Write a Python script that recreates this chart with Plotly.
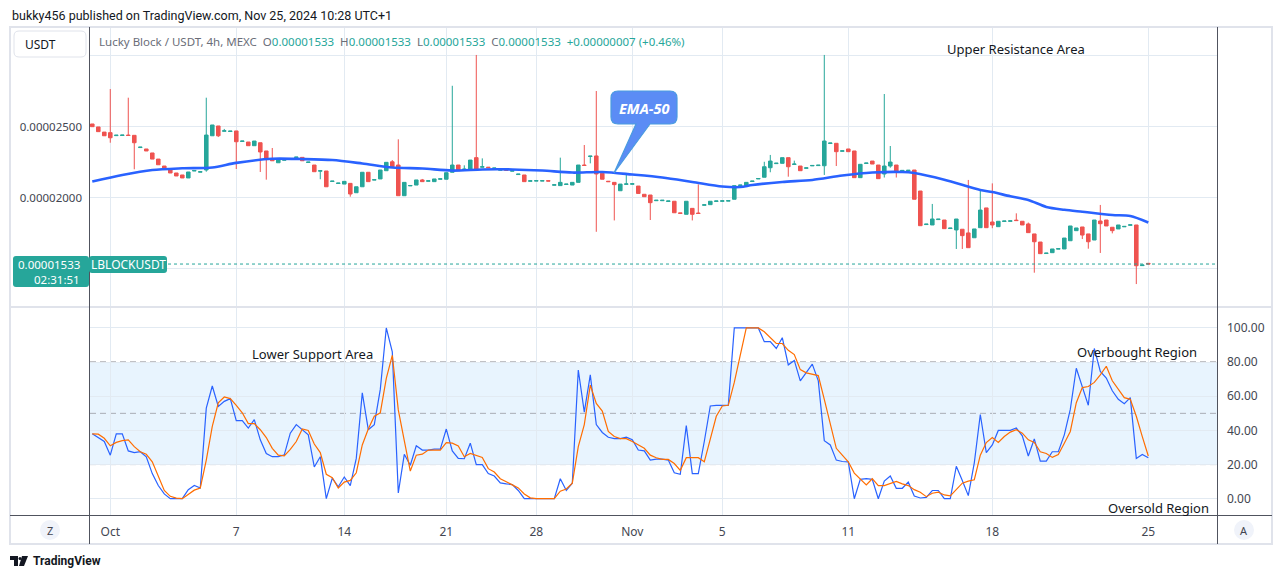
import plotly.graph_objects as go

# ---------------- data (prices in units of 1e-8 USDT) ----------------
UNIT = 1e-8

opens = [
    2519, 2498, 2462, 2458, 2437, 2438, 2441, 2439, 2353, 2343,
    2315, 2272, 2223, 2204, 2174, 2160, 2139, 2188, 2180, 2195,
    2436, 2505, 2468, 2466, 2470, 2396, 2392, 2366, 2387, 2329,
    2274, 2246, 2264, 2271, 2283, 2284, 2248, 2230, 2187, 2188,
    2114, 2100, 2096, 2101, 2035, 2077, 2179, 2124, 2132, 2190,
    2253, 2230, 2014, 2083, 2089, 2125, 2116, 2113, 2130, 2130,
    2179, 2230, 2198, 2195, 2282, 2215, 2215, 2206, 2194, 2196,
    2187, 2163, 2160, 2116, 2117, 2117, 2120, 2088, 2085, 2093,
    2089, 2108, 2230, 2290, 2294, 2172, 2116, 2108, 2049, 2094,
    2095, 2082, 2024, 2019, 1979, 1979, 1974, 1975, 1893, 1883,
    1925, 1892, 1947, 1951, 1974, 1975, 1976, 1989, 2086, 2085,
    2114, 2132, 2144, 2211, 2240, 2242, 2282, 2234, 2223, 2207,
    2224, 2226, 2225, 2382, 2383, 2327, 2343, 2329, 2141, 2241,
    2258, 2230, 2167, 2223, 2230, 2189, 2190, 2195, 2047, 1811,
    1808, 1846, 1843, 1783, 1773, 1778, 1752, 1718, 1789, 1928,
    1829, 1796, 1833, 1834, 1842, 1834, 1815, 1745, 1688, 1607,
    1613, 1638, 1639, 1697, 1768, 1794, 1745, 1702, 1836, 1843,
    1792, 1780, 1795, 1806, 1808, 1522, 1538,
]
highs = [
    2519, 2498, 2462, 2765, 2440, 2441, 2704, 2439, 2356, 2343,
    2315, 2272, 2223, 2204, 2174, 2160, 2181, 2191, 2183, 2704,
    2512, 2505, 2484, 2469, 2470, 2399, 2392, 2399, 2387, 2329,
    2350, 2270, 2267, 2274, 2286, 2284, 2251, 2230, 2190, 2188,
    2117, 2103, 2115, 2101, 2077, 2179, 2179, 2127, 2195, 2249,
    2265, 2411, 2108, 2086, 2125, 2132, 2119, 2132, 2133, 2176,
    2788, 2230, 2228, 2265, 3005, 2277, 2215, 2209, 2197, 2196,
    2190, 2166, 2160, 2119, 2120, 2120, 2120, 2091, 2282, 2096,
    2108, 2230, 2371, 2293, 2751, 2172, 2116, 2108, 2096, 2165,
    2098, 2082, 2024, 2019, 1982, 1982, 1977, 1975, 1893, 1975,
    1925, 2094, 1950, 1975, 1977, 1978, 1979, 2085, 2089, 2108,
    2117, 2135, 2253, 2301, 2243, 2282, 2282, 2261, 2223, 2210,
    2227, 2229, 3005, 2385, 2383, 2330, 2343, 2329, 2235, 2244,
    2258, 2230, 2730, 2364, 2230, 2192, 2193, 2195, 2047, 1814,
    1956, 1849, 1843, 1786, 1850, 1778, 2125, 1780, 2047, 1928,
    2101, 1834, 1836, 1837, 1890, 1834, 1825, 1745, 1688, 1610,
    1639, 1641, 1716, 1801, 1787, 1794, 1745, 1843, 1949, 1843,
    1792, 1808, 1798, 1809, 1808, 1526, 1538,
]
lows = [
    2500, 2465, 2436, 2387, 2437, 2438, 2438, 2200, 2353, 2329,
    2272, 2232, 2209, 2174, 2153, 2139, 2139, 2188, 2180, 2183,
    2436, 2427, 2468, 2466, 2202, 2396, 2366, 2366, 2181, 2127,
    2260, 2246, 2264, 2271, 2283, 2260, 2248, 2183, 2130, 2077,
    2114, 2100, 2096, 2007, 2035, 2077, 2113, 2124, 2132, 2190,
    2218, 2014, 2014, 2083, 2089, 2113, 2116, 2113, 2130, 2130,
    2179, 2190, 2198, 2195, 2195, 2215, 2212, 2206, 2194, 2193,
    2187, 2163, 2113, 2116, 2117, 2117, 2117, 2088, 2085, 2093,
    2089, 2108, 2227, 2242, 1760, 2130, 2113, 1840, 2049, 2094,
    2095, 2030, 2007, 1843, 1979, 1979, 1974, 1894, 1890, 1883,
    1840, 1889, 1947, 1951, 1974, 1975, 1976, 1989, 2086, 2085,
    2114, 2132, 2144, 2179, 2240, 2242, 2148, 2234, 2190, 2207,
    2224, 2226, 2160, 2382, 2223, 2327, 2324, 2141, 2141, 2241,
    2237, 2134, 2142, 2211, 2142, 2189, 2190, 1989, 1803, 1811,
    1808, 1846, 1782, 1783, 1639, 1639, 1648, 1718, 1789, 1789,
    1785, 1796, 1833, 1834, 1839, 1808, 1754, 1472, 1606, 1607,
    1613, 1638, 1639, 1697, 1768, 1709, 1641, 1702, 1611, 1801,
    1749, 1780, 1795, 1806, 1392, 1522, 1533,
]
closes = [
    2500, 2465, 2436, 2422, 2440, 2441, 2438, 2387, 2356, 2329,
    2272, 2232, 2209, 2174, 2153, 2139, 2181, 2191, 2183, 2441,
    2512, 2436, 2471, 2469, 2394, 2399, 2366, 2399, 2322, 2270,
    2260, 2270, 2267, 2274, 2286, 2260, 2251, 2183, 2190, 2077,
    2117, 2103, 2115, 2026, 2077, 2179, 2113, 2127, 2195, 2249,
    2218, 2014, 2108, 2086, 2125, 2113, 2119, 2132, 2133, 2176,
    2230, 2190, 2201, 2265, 2195, 2218, 2212, 2209, 2197, 2193,
    2190, 2166, 2113, 2119, 2120, 2120, 2117, 2091, 2108, 2096,
    2108, 2230, 2227, 2293, 2167, 2130, 2113, 2092, 2096, 2097,
    2098, 2030, 2007, 1965, 1982, 1982, 1977, 1894, 1890, 1975,
    1883, 1889, 1950, 1975, 1977, 1978, 1979, 2085, 2089, 2108,
    2117, 2135, 2218, 2258, 2243, 2282, 2218, 2237, 2190, 2210,
    2227, 2229, 2399, 2385, 2324, 2330, 2324, 2141, 2235, 2244,
    2237, 2134, 2223, 2251, 2183, 2192, 2193, 1989, 1803, 1814,
    1850, 1849, 1782, 1786, 1850, 1733, 1648, 1780, 1913, 1789,
    1808, 1834, 1836, 1837, 1839, 1808, 1754, 1690, 1606, 1610,
    1639, 1641, 1716, 1801, 1787, 1737, 1690, 1843, 1817, 1801,
    1768, 1808, 1798, 1809, 1521, 1526, 1533,
]

# EMA-50 read at selected candles
ema_idx = [0, 5, 10, 15, 20, 24, 30, 35, 40, 45, 50, 55, 60, 65, 70, 75, 80, 85,
           90, 95, 100, 105, 108, 110, 115, 120, 125, 130, 135, 137, 142, 148,
           150, 153, 156, 159, 162, 165, 170, 173, 176]
ema_val = [2114, 2160, 2195, 2207, 2213, 2245, 2274, 2272, 2265, 2241, 2213, 2206,
           2191, 2199, 2199, 2191, 2177, 2181, 2163, 2142, 2111, 2079, 2075, 2089,
           2111, 2125, 2156, 2177, 2181, 2174, 2127, 2054, 2040, 2010, 1984, 1935,
           1915, 1901, 1878, 1871, 1825]

# Stochastic %K (blue) and %D (orange), one value per candle
stoch_k = [
    38, 36, 33.5, 25.5, 38, 38, 28, 27, 27.5, 24.5,
    14.7, 7.7, 2.8, 0, 0, 0, 5.3, 7.7, 6.3, 53,
    66, 54, 57, 58.6, 45.7, 45.7, 41.4, 46.3, 34.5, 26.5,
    24.6, 24.6, 25.7, 38.4, 43.4, 40.4, 37.4, 18.6, 24.6, 0,
    12, 7, 12.7, 7.7, 23.6, 62, 40.4, 43.4, 64, 100,
    86, 3.4, 26, 19.6, 31, 28.5, 28.5, 29, 29, 40.8,
    28, 23.6, 23.4, 32.5, 20, 20, 14.7, 13.3, 9.3, 8.7,
    8.3, 4.8, 0, 0, 0, 0, 0, 0, 11.7, 4.8,
    9.1, 75.4, 50.7, 72.5, 43.4, 38.8, 36, 35.2, 35.2, 36,
    34.5, 28.5, 28, 22.6, 23.2, 23.2, 22.6, 15.2, 14.3, 42.8,
    14.7, 14.7, 33.5, 54.3, 54.7, 54.7, 54.7, 100, 100, 100,
    100, 100, 92, 92, 88, 94.3, 78.4, 81, 69, 73.7,
    78.8, 69, 34, 31.5, 22.6, 21.8, 21.6, 0, 11.3, 11.7,
    11.3, 0, 10.3, 13.3, 6.1, 6.1, 9.7, 1.6, 0.4, 0.8,
    4.8, 4.8, 0, 0, 19, 10.7, 1.8, 21, 49.3, 27,
    31.5, 40, 40, 40, 41.4, 36.8, 25, 35, 22, 22,
    27.5, 27.5, 37.4, 52.3, 76.4, 65.7, 54.7, 88, 74.5, 70.7,
    63.2, 58.2, 55.6, 59.2, 23.6, 25.9, 24,
]
stoch_d = [
    38, 37.8, 35.4, 31, 33, 34, 34.5, 30.5, 27.5, 26,
    21.6, 12.7, 4.8, 1.4, 0.3, 0, 2.4, 5, 6.3, 22.6,
    42.4, 56.2, 59.6, 58.6, 54.7, 50.3, 44, 44, 40.4, 35.8,
    29.5, 25.5, 25.1, 28.9, 33.5, 40.8, 40, 32, 27, 14.3,
    12.3, 6.3, 9.7, 10.7, 15.2, 31.5, 40.8, 48.3, 50.3, 70.5,
    84, 52, 34, 16.2, 25.5, 26.1, 28.5, 28.5, 28.5, 32.9,
    32.5, 30.9, 24.6, 26.5, 25.5, 24.2, 17.6, 15.6, 11.7, 9.7,
    8.1, 6.3, 2.8, 0.5, 0, 0, 0, 0, 4.4, 5.7,
    9.1, 30.5, 43.4, 66.5, 55.8, 51.3, 39.4, 36.4, 35.2, 35.2,
    33.5, 31.5, 29.5, 25.5, 24, 23, 23, 20.6, 16.6, 24,
    24, 24, 21.6, 34.5, 48.3, 54.3, 54.7, 68.1, 84, 100,
    100, 100, 97.8, 94.3, 90.9, 90.9, 86.9, 84.4, 75.6, 73.7,
    73.1, 72.1, 58.2, 44.4, 29.5, 25.5, 21.6, 15, 11.7, 8.1,
    11.7, 7.7, 7.7, 8.7, 10.1, 8.7, 7.7, 5.3, 3.8, 1.2,
    3.2, 3.8, 2.2, 1.6, 5.3, 9.1, 10.3, 11.1, 25.5, 32.9,
    35.8, 32.9, 36.4, 39, 40.4, 38.4, 34.5, 32.9, 27.5, 26.5,
    24.2, 25.9, 32.5, 39.4, 56.2, 65.1, 65.7, 68.1, 72.5, 77.6,
    69.1, 64.2, 59.2, 58.2, 48.3, 36.4, 25,
]

tick_idx = [3, 24, 42, 59, 74, 90, 105, 126, 150, 176]
tick_labels = ["Oct", "7", "14", "21", "28", "Nov", "5", "11", "18", "25"]

price_ticks = [1500, 2000, 2500, 3000]
price_tick_text = ["", "0.00002000", "0.00002500", ""]
stoch_ticks = [0, 20, 40, 60, 80, 100]
stoch_tick_text = ["0.00", "20.00", "40.00", "60.00", "80.00", "100.00"]
last_price = 1533

# ---------------- layout helpers ----------------
W, H = 1281, 579
L, R, T, B = 90, 64, 28, 64


def px(x):
    return (x - L) / (W - L - R)


def py(y):
    return (H - B - y) / (H - T - B)


FONT = "Noto Sans"
TEAL = "#26a69a"
RED = "#ef5350"
GRID = "#e2eaf2"
TXT = "#131722"
AX = "#434651"

n = len(closes)
idx = list(range(n))

fig = go.Figure()

fig.add_trace(go.Candlestick(
    x=idx,
    open=[v * UNIT for v in opens], high=[v * UNIT for v in highs],
    low=[v * UNIT for v in lows], close=[v * UNIT for v in closes],
    increasing=dict(line=dict(color=TEAL, width=1), fillcolor=TEAL),
    decreasing=dict(line=dict(color=RED, width=1), fillcolor=RED),
    whiskerwidth=0, xaxis="x", yaxis="y", showlegend=False, hoverinfo="skip",
))
fig.add_trace(go.Scatter(
    x=ema_idx, y=[v * UNIT for v in ema_val], mode="lines",
    line=dict(color="#2962ff", width=2.6, shape="spline", smoothing=0.8),
    xaxis="x", yaxis="y", showlegend=False, hoverinfo="skip",
))
fig.add_trace(go.Scatter(
    x=idx, y=stoch_k, mode="lines", line=dict(color="#2962ff", width=1.2),
    xaxis="x", yaxis="y2", showlegend=False, hoverinfo="skip",
))
fig.add_trace(go.Scatter(
    x=idx, y=stoch_d, mode="lines", line=dict(color="#ff6d00", width=1.2),
    xaxis="x", yaxis="y2", showlegend=False, hoverinfo="skip",
))

shapes = []
# stochastic band and levels
shapes.append(dict(type="rect", xref="paper", yref="y2", x0=0, x1=1, y0=20, y1=80,
                   fillcolor="rgba(33,150,243,0.1)", line=dict(width=0), layer="between"))
for lvl, col in [(80, "#5d606b"), (20, "#5d606b"), (50, "#a9acb5")]:
    shapes.append(dict(type="line", xref="paper", yref="y2", x0=0, x1=1, y0=lvl, y1=lvl,
                       line=dict(color=col, width=1, dash="6px,4px"), layer="between"))
# last price dotted line
shapes.append(dict(type="line", xref="paper", yref="y", x0=0, x1=1,
                   y0=last_price * UNIT, y1=last_price * UNIT,
                   line=dict(color=TEAL, width=1, dash="dot")))
# frame
shapes.append(dict(type="rect", xref="paper", yref="paper", x0=px(10), x1=px(1272),
                   y0=py(544), y1=py(27), line=dict(color="#e0e3eb", width=2)))
# pane separator
shapes.append(dict(type="line", xref="paper", yref="paper", x0=px(10), x1=px(1272),
                   y0=py(307), y1=py(307), line=dict(color="#e0e3eb", width=2)))
# axis borders
shapes.append(dict(type="line", xref="paper", yref="paper", x0=px(89.5), x1=px(89.5),
                   y0=py(544), y1=py(27), line=dict(color="#50535e", width=1)))
shapes.append(dict(type="line", xref="paper", yref="paper", x0=px(1217.5), x1=px(1217.5),
                   y0=py(544), y1=py(27), line=dict(color="#50535e", width=1)))
shapes.append(dict(type="line", xref="paper", yref="paper", x0=px(10), x1=px(1272),
                   y0=py(515.5), y1=py(515.5), line=dict(color="#50535e", width=1)))


def rounded(x0, y0, x1, y1, r, pointer=None):
    pts = []
    pts.append(f"M{px(x0 + r)},{py(y0)}")
    pts.append(f"L{px(x1 - r)},{py(y0)}")
    pts.append(f"Q{px(x1)},{py(y0)} {px(x1)},{py(y0 + r)}")
    pts.append(f"L{px(x1)},{py(y1 - r)}")
    pts.append(f"Q{px(x1)},{py(y1)} {px(x1 - r)},{py(y1)}")
    if pointer:
        (ax, tipx, tipy, bx) = pointer
        pts.append(f"L{px(ax)},{py(y1)}")
        pts.append(f"L{px(tipx)},{py(tipy)}")
        pts.append(f"L{px(bx)},{py(y1)}")
    pts.append(f"L{px(x0 + r)},{py(y1)}")
    pts.append(f"Q{px(x0)},{py(y1)} {px(x0)},{py(y1 - r)}")
    pts.append(f"L{px(x0)},{py(y0 + r)}")
    pts.append(f"Q{px(x0)},{py(y0)} {px(x0 + r)},{py(y0)}")
    pts.append("Z")
    return " ".join(pts)


# EMA-50 callout
shapes.append(dict(type="path", xref="paper", yref="paper",
                   path=rounded(611, 91, 677, 124, 7, pointer=(650, 614, 173, 636)),
                   fillcolor="#5b8cf5", line=dict(color="#4a9be0", width=1.2)))
# USDT button
shapes.append(dict(type="path", xref="paper", yref="paper",
                   path=rounded(14, 31, 86, 57, 5), fillcolor="white",
                   line=dict(color="#e0e3eb", width=1)))
# last price labels
shapes.append(dict(type="path", xref="paper", yref="paper",
                   path=rounded(13, 256, 89, 287, 3), fillcolor=TEAL, line=dict(width=0)))
shapes.append(dict(type="path", xref="paper", yref="paper",
                   path=rounded(89, 256, 167, 273, 3), fillcolor=TEAL, line=dict(width=0)))
# Z / A buttons
for cx in (50, 1244):
    shapes.append(dict(type="circle", xref="paper", yref="paper", x0=px(cx - 10), x1=px(cx + 10),
                       y0=py(540), y1=py(520), fillcolor="#f0f3fa", line=dict(width=0)))
# TradingView logo mark
shapes.append(dict(type="path", xref="paper", yref="paper",
                   path=(f"M{px(10)},{py(556)} L{px(18)},{py(556)} L{px(18)},{py(566)} "
                         f"L{px(14)},{py(566)} L{px(14)},{py(560)} L{px(10)},{py(560)} Z"),
                   fillcolor="#131722", line=dict(width=0)))
shapes.append(dict(type="path", xref="paper", yref="paper",
                   path=(f"M{px(22)},{py(556)} L{px(28)},{py(556)} L{px(24)},{py(566)} "
                         f"L{px(19)},{py(566)} Z"),
                   fillcolor="#131722", line=dict(width=0)))
shapes.append(dict(type="circle", xref="paper", yref="paper", x0=px(18.5), x1=px(21.5),
                   y0=py(560), y1=py(557), fillcolor="#131722", line=dict(width=0)))


def ann(text, x, y, size=13, color=TXT, xanchor="center", family=FONT, **kw):
    return dict(text=text, x=px(x), y=py(y), xref="paper", yref="paper", showarrow=False,
                xanchor=xanchor, yanchor="middle", font=dict(family=family, size=size, color=color), **kw)


G = "#6a6d78"
legend_text = (
    f"<span style='color:{G}'>Lucky Block / USDT, 4h, MEXC&nbsp;&nbsp;O</span>"
    f"<span style='color:{TEAL}'>0.00001533</span>"
    f"<span style='color:{G}'>&nbsp;&nbsp;H</span><span style='color:{TEAL}'>0.00001533</span>"
    f"<span style='color:{G}'>&nbsp;&nbsp;L</span><span style='color:{TEAL}'>0.00001533</span>"
    f"<span style='color:{G}'>&nbsp;&nbsp;C</span><span style='color:{TEAL}'>0.00001533</span>"
    f"<span style='color:{TEAL}'>&nbsp;&nbsp;+0.00000007 (+0.46%)</span>"
)

annotations = [
    ann("bukky456 published on TradingView.com, Nov 25, 2024 10:28 UTC+1", 10, 15, size=12.5,
        xanchor="left", family="Roboto"),
    ann(legend_text, 97, 42, size=11.5, xanchor="left"),
    ann("USDT", 23, 44, size=12, xanchor="left"),
    ann("0.00001533", 82, 264, size=11.5, color="white", xanchor="right"),
    ann("02:31:51", 82, 279.5, size=11.5, color="white", xanchor="right"),
    ann("LBLOCKUSDT", 128, 264.5, size=12, color="white"),
    ann("<b><i>EMA-50</i></b>", 644, 107.5, size=14.5, color="white"),
    ann("Upper Resistance Area", 1016, 49, size=13),
    ann("Lower Support Area", 312, 354, size=13),
    ann("Overbought Region", 1137, 352, size=13),
    ann("Oversold Region", 1158, 508, size=13),
    ann("Z", 50, 530, size=11, color=AX),
    ann("A", 1244, 530, size=11, color=AX),
    ann("<b>TradingView</b>", 31, 561, size=12, xanchor="left", family="Roboto"),
]

fig.update_layout(
    width=W, height=H,
    margin=dict(l=L, r=R, t=T, b=B),
    paper_bgcolor="white", plot_bgcolor="white",
    showlegend=False,
    font=dict(family=FONT, size=12, color=AX),
    xaxis=dict(
        domain=[0, 1], range=[-0.38, 187.45], anchor="y2",
        tickmode="array", tickvals=tick_idx, ticktext=tick_labels,
        showgrid=True, gridcolor=GRID, gridwidth=1, zeroline=False, showline=False,
        ticks="", ticklabelstandoff=8, tickfont=dict(family=FONT, size=12, color=AX),
        rangeslider=dict(visible=False), fixedrange=True,
    ),
    yaxis=dict(
        domain=[py(306), 1], range=[1237.6 * UNIT, 3194.7 * UNIT], anchor="x", side="left",
        tickmode="array", tickvals=[v * UNIT for v in price_ticks], ticktext=price_tick_text,
        showgrid=True, gridcolor=GRID, gridwidth=1, zeroline=False, showline=False,
        ticks="", ticklabelstandoff=7, tickfont=dict(family=FONT, size=11.5, color=AX),
        fixedrange=True,
    ),
    yaxis2=dict(
        domain=[0, py(308)], range=[-9.55, 111.7], anchor="x", side="right",
        tickmode="array", tickvals=stoch_ticks, ticktext=stoch_tick_text,
        showgrid=True, gridcolor=GRID, gridwidth=1, zeroline=False, showline=False,
        ticks="", ticklabelstandoff=9, tickfont=dict(family=FONT, size=12, color=AX),
        fixedrange=True,
    ),
    shapes=shapes,
    annotations=annotations,
    boxgap=0.15,
)

fig.write_html(
    "out.html",
    config={"displayModeBar": False},
    post_script="document.body.style.margin='0';document.body.style.overflow='hidden';",
)
